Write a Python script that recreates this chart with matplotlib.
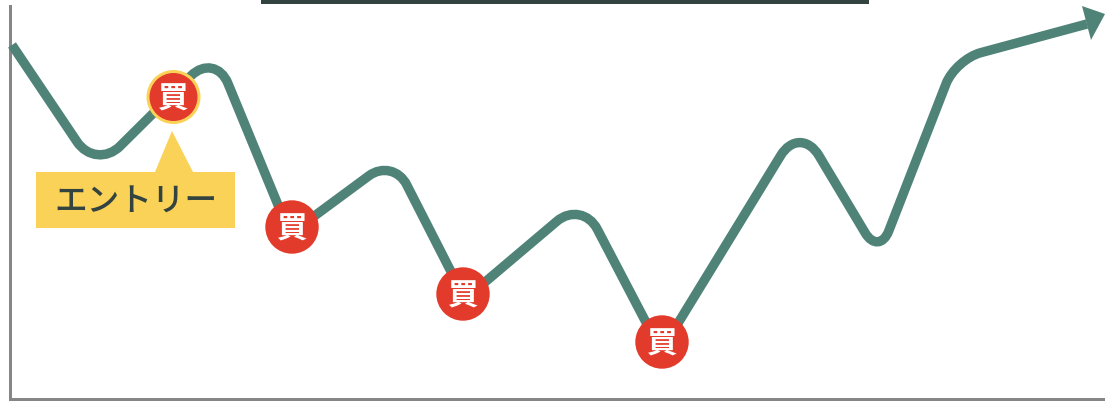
import matplotlib
matplotlib.use("Agg")
import matplotlib.pyplot as plt
from matplotlib.path import Path
from matplotlib.patches import PathPatch, Circle, Polygon, Rectangle

plt.rcParams['font.family'] = ['Noto Sans CJK JP', 'DejaVu Sans']

# corners of the price line, image pixels
line_x = [12, 96, 215, 290, 393, 465, 582, 661, 800, 879, 955.5, 1087]
line_y = [46, 171, 53, 235, 159, 300, 201, 352, 125, 257, 60.5, 25]
corner_r = [0, 34, 34, 0, 30, 0, 33, 0, 37, 27, 26, 0]

# buy markers
buy_x = [173.5, 292, 463, 662]
buy_y = [98, 228, 295, 343]
buy_label = "買"
entry_label = "エントリー"

GREEN = "#4f8377"
RED = "#e23b2b"
YELLOW = "#fad257"
GREY = "#868686"
DARK = "#33433f"


def rounded_path(xs, ys, radii):
    verts = [(xs[0], ys[0])]
    codes = [Path.MOVETO]
    for i in range(1, len(xs) - 1):
        r = radii[i]
        px, py = xs[i], ys[i]
        if r == 0:
            verts.append((px, py))
            codes.append(Path.LINETO)
            continue
        # cubic from one side of the corner to the other, close to a circular arc
        ax0, ay0 = xs[i - 1] - px, ys[i - 1] - py
        bx0, by0 = xs[i + 1] - px, ys[i + 1] - py
        da = (ax0 ** 2 + ay0 ** 2) ** 0.5
        db = (bx0 ** 2 + by0 ** 2) ** 0.5
        ux, uy = ax0 / da, ay0 / da
        wx, wy = bx0 / db, by0 / db
        verts += [(px + ux * r, py + uy * r),
                  (px + ux * r * 0.45, py + uy * r * 0.45),
                  (px + wx * r * 0.45, py + wy * r * 0.45),
                  (px + wx * r, py + wy * r)]
        codes += [Path.LINETO, Path.CURVE4, Path.CURVE4, Path.CURVE4]
    verts.append((xs[-1], ys[-1]))
    codes.append(Path.LINETO)
    return Path(verts, codes)


fig = plt.figure(figsize=(11.05, 4.02), dpi=100)
ax = fig.add_axes([0, 0, 1, 1])
ax.set_xlim(0, 1105)
ax.set_ylim(402, 0)
ax.axis("off")

# axes lines and the bar cut off at the top
ax.add_patch(Rectangle((8.5, 6), 3.2, 396, color=GREY, lw=0))
ax.add_patch(Rectangle((8.5, 398.8), 1096.5, 3.2, color=GREY, lw=0))
ax.add_patch(Rectangle((261, 0), 608, 4.5, color=DARK, lw=0))

ax.add_patch(PathPatch(rounded_path(line_x, line_y, corner_r), fc="none", ec=GREEN,
                       lw=6.8, capstyle="butt", joinstyle="round", zorder=2))
# arrow head
ax.add_patch(Polygon([(1082, 7), (1105, 15), (1091, 41)], closed=True, color=GREEN, lw=0, zorder=2))

# entry callout
ax.add_patch(Polygon([(155, 173), (172, 132), (193, 173)], closed=True, color=YELLOW, lw=0, zorder=3))
ax.add_patch(Rectangle((36, 173), 199, 55.5, color=YELLOW, lw=0, zorder=3))
ax.text(135.5, 202, entry_label, fontsize=23.5, fontweight="medium", color=DARK,
        ha="center", va="center", zorder=4)

for i, (x, y) in enumerate(zip(buy_x, buy_y)):
    if i == 0:
        ax.add_patch(Circle((x, y), 27, color=YELLOW, lw=0, zorder=4))
        ax.add_patch(Circle((x, y), 24, color=RED, lw=0, zorder=5))
    else:
        ax.add_patch(Circle((x, y), 26.7, color=RED, lw=0, zorder=5))
    ax.text(x, y + 2, buy_label, fontsize=22, fontweight="bold", color="white",
            ha="center", va="center", zorder=6)

fig.savefig("out.png", dpi=100)
